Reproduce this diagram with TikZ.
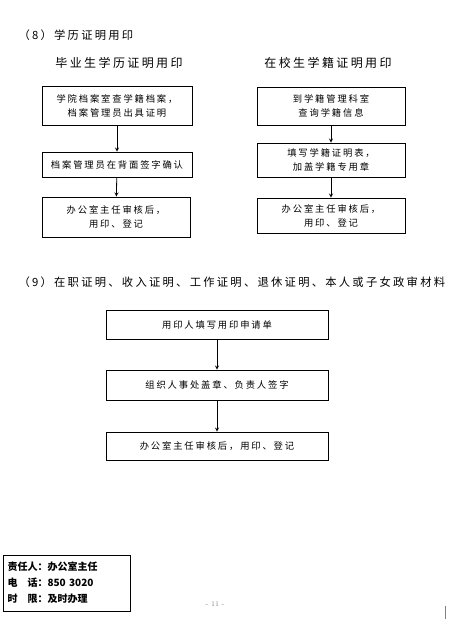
\documentclass[tikz,border=0pt]{standalone}
\usepackage{fontspec}
\newfontfamily\cjk{Noto Sans CJK SC}
\newfontfamily\cjkwide{Noto Sans CJK SC}[LetterSpace=20]
\usetikzlibrary{positioning}

\tikzset{
 stepbox/.style={draw,line width=.9pt,align=center,inner sep=0pt,
   font=\fontsize{9.3}{14}\selectfont\cjkwide},
 flow/.style={->,line width=.8pt},
 head/.style={font=\fontsize{11.3}{13}\selectfont\cjkwide},
 subhead/.style={font=\fontsize{12}{13}\selectfont\cjkwide}
}

\begin{document}
\begin{tikzpicture}[x=1pt,y=-1pt,>=stealth]
 \useasboundingbox (0,0) rectangle (463,623);
 % (8)
 \node[head,anchor=west] (t8) at (15,35) {（8）学历证明用印};
 \node[subhead] (lhead) at (119,63) {毕业生学历证明用印};
 \node[subhead] (rhead) at (328,63) {在校生学籍证明用印};
 \node[stepbox,minimum width=150,minimum height=39] (l1) at (117,105.5)
   {学院档案室查学籍档案，\\档案管理员出具证明};
 \node[stepbox,minimum width=150,minimum height=25] (l2) at (117,164.5)
   {档案管理员在背面签字确认};
 \node[stepbox,minimum width=148,minimum height=40] (l3) at (116,217)
   {办公室主任审核后，\\用印、登记};
 \node[stepbox,minimum width=148,minimum height=38] (r1) at (331,106)
   {到学籍管理科室\\查询学籍信息};
 \node[stepbox,minimum width=148,minimum height=34] (r2) at (331,160)
   {填写学籍证明表，\\加盖学籍专用章};
 \node[stepbox,minimum width=148,minimum height=35] (r3) at (331,215.5)
   {办公室主任审核后，\\用印、登记};
 \foreach \a/\b in {l1/l2,l2/l3,r1/r2,r2/r3}
   \draw[flow] (\a) -- (\b);
 % (9)
 \node[head,anchor=west] (t9) at (15,282)
   {（9）在职证明、收入证明、工作证明、退休证明、本人或子女政审材料};
 \node[stepbox,minimum width=222,minimum height=29] (b1) at (217,324.5)
   {用印人填写用印申请单};
 \node[stepbox,minimum width=222,minimum height=30] (b2) at (217,385)
   {组织人事处盖章、负责人签字};
 \node[stepbox,minimum width=222,minimum height=28] (b3) at (217,446)
   {办公室主任审核后，用印、登记};
 \draw[flow] (b1) -- (b2);
 \draw[flow] (b2) -- (b3);
 % info
 \node[draw,line width=.9pt,minimum width=127,minimum height=56,
   text width=118,inner sep=0pt,align=left,
   font=\fontsize{10}{16}\selectfont\cjk\bfseries] (info) at (66.5,583)
   {责任人：办公室主任\\电　话：850 3020\\时　限：及时办理};
 \node[font=\fontsize{7}{8}\selectfont,text=gray] (page) at (215,604) {- 11 -};
 \draw[gray,line width=.6pt] (445,606) -- (445,619);
\end{tikzpicture}
\end{document}
